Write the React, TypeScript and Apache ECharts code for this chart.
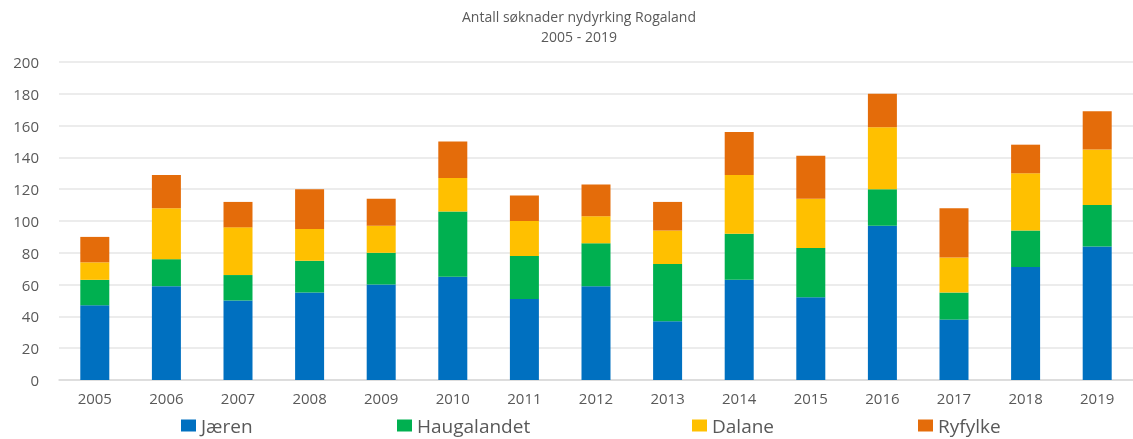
import React, { useEffect, useRef } from "react";
import * as echarts from "echarts";

const categories = ["2005","2006","2007","2008","2009","2010","2011","2012","2013","2014","2015","2016","2017","2018","2019"];
const jaeren = [47, 59, 50, 55, 60, 65, 51, 59, 37, 63, 52, 97, 38, 71, 84];
const haugalandet = [16, 17, 16, 20, 20, 41, 27, 27, 36, 29, 31, 23, 17, 23, 26];
const dalane = [11, 32, 30, 20, 17, 21, 22, 17, 21, 37, 31, 39, 22, 36, 35];
const ryfylke = [16, 21, 16, 25, 17, 23, 16, 20, 18, 27, 27, 21, 31, 18, 24];
const seriesNames = ["Jæren", "Haugalandet", "Dalane", "Ryfylke"];
const seriesColors = ["#0070C0", "#00B050", "#FFC000", "#E46C0A"];
const titleLines = ["Antall søknader nydyrking Rogaland", "2005 - 2019"];

const FONT = "Open Sans";
const TEXT = "#595959";

export default function App() {
  const ref = useRef<HTMLDivElement>(null);
  useEffect(() => {
    if (!ref.current) return;
    const chart = echarts.init(ref.current, null, { renderer: "svg" });
    const data = [jaeren, haugalandet, dalane, ryfylke];
    const textWidths = [196, 275, 206, 100];
    chart.setOption({
      animation: false,
      textStyle: { fontFamily: FONT },
      graphic: [
        {
          type: "text",
          x: 579,
          y: 16,
          style: { text: titleLines[0], fontSize: 14, fontFamily: FONT, fill: TEXT, align: "center", verticalAlign: "middle" },
        },
        {
          type: "text",
          x: 579,
          y: 36,
          style: { text: titleLines[1], fontSize: 14, fontFamily: FONT, fill: TEXT, align: "center", verticalAlign: "middle" },
        },
      ],
      legend: {
        data: seriesNames.map((n, i) => ({ name: n, textStyle: { width: textWidths[i] } })),
        left: 181,
        top: 416,
        padding: 0,
        itemWidth: 15,
        itemHeight: 12,
        itemGap: 0,
        icon: "rect",
        textStyle: { fontSize: 19, lineHeight: 19, color: TEXT, fontFamily: FONT },
      },
      grid: { left: 59, right: -10.5, top: 62, bottom: 59, containLabel: false },
      xAxis: {
        type: "category",
        data: categories,
        axisTick: { show: false },
        axisLine: { lineStyle: { color: "#d9d9d9", width: 1.5 } },
        axisLabel: { color: TEXT, fontSize: 15, margin: 10, fontFamily: FONT },
      },
      yAxis: {
        type: "value",
        min: 0,
        max: 200,
        interval: 20,
        axisLine: { show: false },
        axisTick: { show: false },
        splitLine: { lineStyle: { color: "#e6e6e6", width: 1.5 } },
        axisLabel: { color: TEXT, fontSize: 15, margin: 20, fontFamily: FONT },
      },
      series: seriesNames.map((n, i) => ({
        name: n,
        type: "bar",
        stack: "total",
        barWidth: 29,
        data: data[i],
        itemStyle: { color: seriesColors[i] },
      })),
    });
    return () => chart.dispose();
  }, []);
  return <div ref={ref} style={{ position: "fixed", left: 0, top: 0, width: 1133, height: 439 }} />;
}
